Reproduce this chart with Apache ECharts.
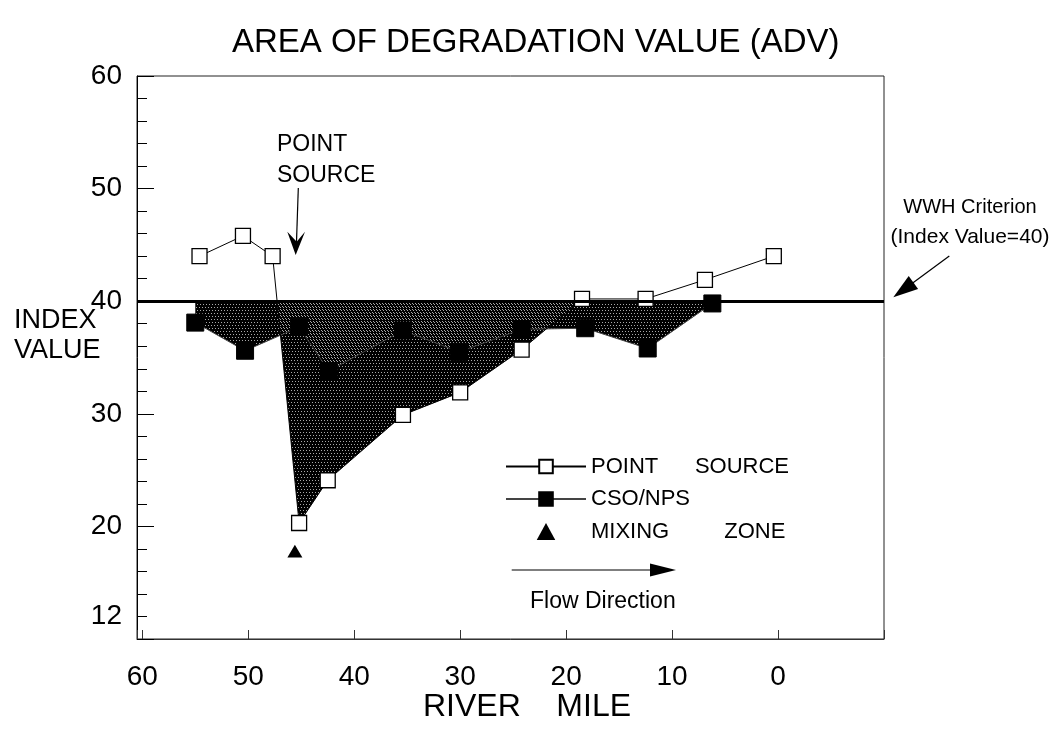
<!DOCTYPE html>
<html>
<head>
<meta charset="utf-8">
<title>Area of Degradation Value (ADV)</title>
<script src="https://cdn.jsdelivr.net/npm/echarts@6/dist/echarts.min.js"></script>
<style>
  html, body { margin: 0; padding: 0; background: #fff; }
  #chart { width: 1060px; height: 740px; }
</style>
</head>
<body>
<div id="chart"></div>
<script>
// River miles (x) and index values (y) for each survey series
const psMile = [54.6, 50.5, 47.7, 45.2, 42.5, 35.4, 30.0, 24.2, 18.5, 12.5, 6.9, 0.4];
const pointSource = [44.0, 45.8, 44.0, 20.3, 24.1, 29.9, 31.9, 35.7, 40.2, 40.2, 41.9, 44.0];

const csoMile = [55.0, 50.3, 45.2, 42.4, 35.4, 30.1, 24.2, 18.2, 12.3, 6.2];
const csoNps = [38.1, 35.6, 37.7, 33.8, 37.4, 35.5, 37.5, 37.6, 35.8, 39.8];

const mixingMile = [45.6];
const mixingZone = [17.8];

// Warmwater habitat criterion
const CRITERION = 40;

// Axis tick labels
const xTickLabels = [60, 50, 40, 30, 20, 10, 0];
const yTickLabels = [60, 50, 40, 30, 20, 12];

const FONT = 'Liberation Sans, Arial, sans-serif';
const TRIANGLE = 'path://M6,0L12,11L0,11Z';

const legendText = {
  'POINT SOURCE': 'POINT      SOURCE',
  'CSO/NPS': 'CSO/NPS',
  'MIXING ZONE': 'MIXING         ZONE'
};

// Dot textures used for the shaded degradation area
function dotTile(dots) {
  const c = document.createElement('canvas');
  c.width = 6; c.height = 6;
  const g = c.getContext('2d');
  g.fillStyle = '#a8a8a8';
  dots.forEach(([x, y]) => g.fillRect(x, y, 1, 1));
  return c;
}
const tileA = dotTile([[0, 0], [3, 0], [1, 3], [4, 3]]);
const tileB = dotTile([[1, 1], [4, 1], [2, 4], [5, 4]]);

// Keep the part of a pixel polygon lying below the horizontal line y = y0
function clipBelow(pts, y0) {
  const out = [];
  const n = pts.length;
  for (let i = 0; i < n; i++) {
    const cur = pts[i];
    const prev = pts[(i - 1 + n) % n];
    const curIn = cur[1] >= y0;
    const prevIn = prev[1] >= y0;
    const cross = () => {
      const t = (y0 - prev[1]) / (cur[1] - prev[1]);
      return [prev[0] + t * (cur[0] - prev[0]), y0];
    };
    if (curIn) {
      if (!prevIn) out.push(cross());
      out.push(cur);
    } else if (prevIn) {
      out.push(cross());
    }
  }
  return out;
}

// Shaded area between the criterion line and each series where it falls below it
function renderDegradation(params, api) {
  const y0 = api.coord([0, CRITERION])[1];
  const band = (xs, ys) => {
    const pts = xs.map((x, i) => api.coord([x, ys[i]]));
    pts.unshift(api.coord([xs[0], CRITERION]));
    pts.push(api.coord([xs[xs.length - 1], CRITERION]));
    return clipBelow(pts, y0);
  };
  const ps = band(psMile, pointSource);
  const cso = band(csoMile, csoNps);
  return {
    type: 'group',
    children: [
      { type: 'polygon', shape: { points: ps }, style: { fill: '#000' } },
      { type: 'polygon', shape: { points: cso }, style: { fill: '#000' } },
      { type: 'polygon', shape: { points: ps }, style: { fill: { image: tileA, repeat: 'repeat' } } },
      { type: 'polygon', shape: { points: cso }, style: { fill: { image: tileB, repeat: 'repeat' } } }
    ]
  };
}

const chart = echarts.init(document.getElementById('chart'), null, { renderer: 'canvas' });

const option = {
  animation: false,
  backgroundColor: '#fff',
  title: {
    text: 'AREA OF DEGRADATION VALUE (ADV)',
    left: 232,
    top: 26,
    padding: 0,
    textStyle: { fontFamily: FONT, fontSize: 33, fontWeight: 'normal', color: '#000' }
  },
  grid: {
    left: 137, right: 176, top: 76, bottom: 101,
    show: true, borderColor: '#222', borderWidth: 1, backgroundColor: 'transparent'
  },
  legend: {
    orient: 'vertical',
    left: 500,
    top: 450.5,
    itemWidth: 80,
    itemHeight: 17,
    itemGap: 10.5,
    itemTextGap: 12,
    selectedMode: false,
    symbolKeepAspect: true,
    data: [
      { name: 'POINT SOURCE' },
      { name: 'CSO/NPS' },
      { name: 'MIXING ZONE', icon: TRIANGLE }
    ],
    formatter: name => legendText[name],
    textStyle: { fontFamily: FONT, fontSize: 22, color: '#000', lineHeight: 22 }
  },
  xAxis: {
    type: 'value',
    inverse: true,
    min: -10,
    max: 60.5,
    interval: 10,
    name: 'RIVER    MILE',
    nameLocation: 'middle',
    nameGap: 52,
    nameMoveOverlap: false,
    nameTextStyle: { fontFamily: FONT, fontSize: 32, color: '#000', padding: [0, 0, 0, 33] },
    axisLine: { onZero: false, lineStyle: { color: '#333', width: 1 } },
    axisTick: { inside: true, length: 9, lineStyle: { color: '#333' } },
    axisLabel: {
      margin: 24,
      fontFamily: FONT, fontSize: 28, color: '#000',
      formatter: v => (xTickLabels.indexOf(v) >= 0 ? String(v) : '')
    },
    splitLine: { show: false }
  },
  yAxis: [
    {
      type: 'value',
      position: 'left',
      min: 10,
      max: 60,
      interval: 2,
      axisLine: { show: true, onZero: false, lineStyle: { color: '#000', width: 1 } },
      axisTick: { inside: true, length: 10, lineStyle: { color: '#000' } },
      axisLabel: {
        margin: 15,
        fontFamily: FONT, fontSize: 28, color: '#000',
        formatter: v => (yTickLabels.indexOf(v) >= 0 ? String(v) : '')
      },
      splitLine: { show: false }
    },
    {
      // longer ticks at every tenth index value
      type: 'value',
      position: 'left',
      min: 10,
      max: 60,
      interval: 10,
      axisLine: { show: false, onZero: false },
      axisTick: { show: true, inside: true, length: 17, lineStyle: { color: '#000' } },
      axisLabel: { show: false },
      splitLine: { show: false }
    }
  ],
  graphic: [
    {
      type: 'text', left: 14, top: 306, z: 10,
      style: { text: 'INDEX\nVALUE', font: '27px ' + FONT, fill: '#000', lineHeight: 30 }
    },
    {
      type: 'text', left: 277, top: 129, z: 10,
      style: { text: 'POINT\nSOURCE', font: '23px ' + FONT, fill: '#000', lineHeight: 31 }
    },
    {
      type: 'line', z: 10,
      shape: { x1: 298.3, y1: 188, x2: 296.5, y2: 242 },
      style: { stroke: '#000', lineWidth: 1.2 }
    },
    {
      type: 'polygon', z: 10,
      shape: { points: [[295.7, 255], [287.3, 231.7], [296.7, 241.7], [305, 231.7]] },
      style: { fill: '#000' }
    },
    {
      type: 'text', z: 10,
      x: 970, y: 207,
      style: { text: 'WWH Criterion', font: '20px ' + FONT, fill: '#000', align: 'center', verticalAlign: 'middle' }
    },
    {
      type: 'text', z: 10,
      x: 970, y: 237,
      style: { text: '(Index Value=40)', font: '21px ' + FONT, fill: '#000', align: 'center', verticalAlign: 'middle' }
    },
    {
      type: 'line', z: 10,
      shape: { x1: 949.3, y1: 256, x2: 910, y2: 285 },
      style: { stroke: '#000', lineWidth: 1.2 }
    },
    {
      type: 'polygon', z: 10,
      shape: { points: [[893.3, 297.3], [908.7, 276.1], [918.1, 288.9]] },
      style: { fill: '#000' }
    },
    {
      type: 'line', z: 10,
      shape: { x1: 511.7, y1: 570, x2: 655, y2: 570 },
      style: { stroke: '#000', lineWidth: 1.2 }
    },
    {
      type: 'polygon', z: 10,
      shape: { points: [[676, 570], [650, 563.5], [650, 576.5]] },
      style: { fill: '#000' }
    },
    {
      type: 'text', z: 10,
      left: 530, top: 590,
      style: { text: 'Flow Direction', font: '23px ' + FONT, fill: '#000' }
    }
  ],
  series: [
    {
      name: 'ADV',
      type: 'custom',
      renderItem: renderDegradation,
      data: [[psMile[0], CRITERION]],
      silent: true,
      z: 1
    },
    {
      name: 'POINT SOURCE',
      type: 'line',
      data: psMile.map((x, i) => [x, pointSource[i]]),
      symbol: 'rect',
      symbolSize: 15,
      showAllSymbol: true,
      itemStyle: { color: '#fff', borderColor: '#000', borderWidth: 1.3 },
      lineStyle: { color: '#000', width: 1 },
      z: 4,
      markLine: {
        silent: true,
        symbol: 'none',
        label: { show: false },
        lineStyle: { color: '#000', width: 3, type: 'solid' },
        data: [{ yAxis: CRITERION }]
      }
    },
    {
      name: 'CSO/NPS',
      type: 'line',
      data: csoMile.map((x, i) => [x, csoNps[i]]),
      symbol: 'rect',
      symbolSize: 17,
      showAllSymbol: true,
      itemStyle: { color: '#000', borderColor: '#000', borderWidth: 1 },
      lineStyle: { color: '#444', width: 1 },
      z: 3
    },
    {
      name: 'MIXING ZONE',
      type: 'scatter',
      data: mixingMile.map((x, i) => [x, mixingZone[i]]),
      symbol: TRIANGLE,
      symbolSize: [15, 14],
      symbolKeepAspect: true,
      itemStyle: { color: '#000', opacity: 1 },
      z: 3
    }
  ]
};

chart.setOption(option);
</script>
</body>
</html>
